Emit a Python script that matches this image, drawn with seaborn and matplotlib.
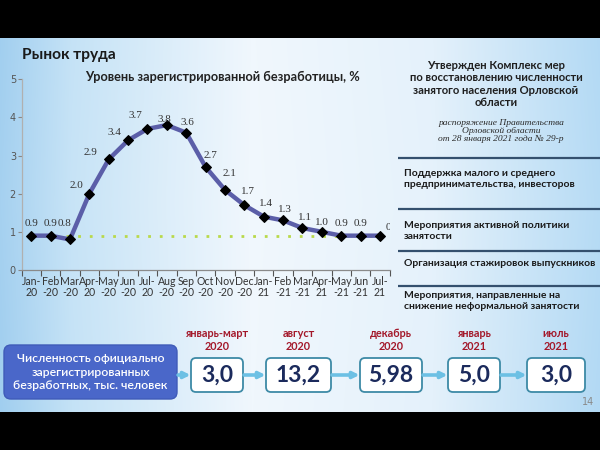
import numpy as np
import pandas as pd
import matplotlib
matplotlib.use("Agg")
import matplotlib.pyplot as plt
import matplotlib.transforms as mtransforms
from matplotlib.patches import FancyBboxPatch, Rectangle
import seaborn as sns

# ---------------- data ----------------
months = ["Jan-\n20", "Feb\n-20", "Mar\n-20", "Apr-\n20", "May\n-20", "Jun\n-20",
          "Jul-\n20", "Aug\n-20", "Sep\n-20", "Oct\n-20", "Nov\n-20", "Dec\n-20",
          "Jan-\n21", "Feb\n-21", "Mar\n-21", "Apr-\n21", "May\n-21", "Jun\n-21", "Jul-\n21"]
unemployment = [0.9, 0.9, 0.8, 2.0, 2.9, 3.4, 3.7, 3.8, 3.6, 2.7, 2.1, 1.7,
                1.4, 1.3, 1.1, 1.0, 0.9, 0.9, 0.9]
pre_crisis = [0.9, 0.9, 0.9, 0.9, 0.9, 0.9, 0.9, 0.9, 0.9, 0.9, 0.9, 0.9,
              0.9, 0.9, 0.9, 0.9, 0.9, 0.9, 0.9]
y_ticks = [0, 1, 2, 3, 4, 5]

period_labels = ["январь-март\n2020", "август\n2020", "декабрь\n2020", "январь\n2021", "июль\n2021"]
unemployed_counts = ["3,0", "13,2", "5,98", "5,0", "3,0"]

measures = ["Поддержка малого и среднего\nпредпринимательства, инвесторов",
            "Мероприятия активной политики\nзанятости",
            "Организация стажировок выпускников",
            "Мероприятия, направленные на\nснижение неформальной занятости"]

# label offsets in pixels (dx, dy) relative to each point
label_dx = [0, 0, -5, -13, -18, -14, -12, -2, 1, 5, 5, 4, 2, 2, 2, 0, 0, 0, 12]
label_dy = [12, 12, 16, 8, 7, 8, 13, 6, 10, 12, 16, 14, 13, 11, 11, 9, 12, 12, 8]

# ---------------- figure ----------------
sns.set_theme(style="white")
plt.rcParams['font.family'] = ['DejaVu Sans']
SANS = ["Lato", "DejaVu Sans"]
W, H = 600, 450
fig = plt.figure(figsize=(6, 4.5), dpi=100)

# background slide axes in pixel coordinates
bg = fig.add_axes([0, 0, 1, 1], zorder=-10)
xs = np.linspace(0, 1, W)
ys = np.linspace(0, 1, H)
stops = [0, 0.12, 0.42, 0.72, 1.0]
cols = np.array([[160, 206, 239], [196, 226, 246], [240, 247, 253],
                 [228, 241, 251], [178, 217, 244]]) / 255.0
grad = np.stack([np.interp(xs, stops, cols[:, k]) for k in range(3)], axis=-1)
img = np.repeat(grad[None, :, :], H, axis=0)
vert = (0.06 * (1 - np.abs(ys - 0.45) * 2))[:, None, None]
img = np.clip(img + vert * (1 - img), 0, 1)
bg.imshow(img, extent=(0, W, H, 0), aspect="auto", interpolation="bilinear")
bg.set_xlim(0, W)
bg.set_ylim(H, 0)
bg.axis("off")
bg.add_patch(Rectangle((0, 0), W, 37.5, color="black", lw=0))
bg.add_patch(Rectangle((0, 412), W, 38, color="black", lw=0))

bg.text(22, 55, "Рынок труда", fontsize=11.2, fontweight="bold", color="#1a1a1a",
        ha="left", va="center", family=SANS)
bg.text(222, 77, "Уровень зарегистрированной безработицы, %", fontsize=9.2,
        fontweight="bold", color="#222222", ha="center", va="center", family=SANS)

# right panel
bg.text(496, 84, "Утвержден Комплекс мер\nпо восстановлению численности\nзанятого населения Орловской\nобласти",
        fontsize=8.1, fontweight="bold", color="#1f1f1f", ha="center", va="center",
        linespacing=1.15, family=SANS)
bg.text(501, 131, "распоряжение Правительства\nОрловской области\nот 28 января 2021 года № 29-р",
        fontsize=6.8, style="italic", color="#2a2a2a", ha="center", va="center",
        family="Liberation Serif", linespacing=1.05)
for yl in [158, 209, 251, 286]:
    bg.plot([398, 600], [yl, yl], color="#34506e", lw=1.6, solid_capstyle="butt")
for txt, yc in zip(measures, [179, 231, 263, 301]):
    bg.text(404, yc, txt, fontsize=7.5, fontweight="bold", color="#1a1a1a",
            ha="left", va="center", linespacing=1.15, family=SANS)

# bottom flow
bg.add_patch(FancyBboxPatch((4, 345), 173, 54, boxstyle="round,pad=0,rounding_size=7",
                            fc="#4a67c9", ec="#3f5bb8", lw=1))
bg.text(90.5, 372, "Численность официально\nзарегистрированных\nбезработных, тыс. человек",
        fontsize=8.8, color="white", ha="center", va="center", linespacing=1.25,
        family=SANS, fontweight="semibold")
boxes = [(191, 243), (266, 331), (360, 422), (448, 500), (527, 585)]
for (x1, x2), lab, val in zip(boxes, period_labels, unemployed_counts):
    bg.add_patch(FancyBboxPatch((x1, 358), x2 - x1, 34, boxstyle="round,pad=0,rounding_size=5",
                                fc="white", ec="#3d8aa6", lw=1.3))
    bg.text((x1 + x2) / 2, 375.5, val, fontsize=16.5, fontweight="bold", color="#1b2a5c",
            ha="center", va="center", family=SANS)
    bg.text((x1 + x2) / 2, 340, lab, fontsize=7.8, fontweight="bold", color="#a3182a",
            ha="center", va="center", linespacing=1.2, family=SANS)
starts = [177] + [b[1] for b in boxes[:-1]]
ends = [b[0] for b in boxes]
for s, e in zip(starts, ends):
    bg.annotate("", xy=(e - 0.5, 375), xytext=(s + 1, 375),
                arrowprops=dict(arrowstyle="-|>", color="#6cc0e4", lw=2.6,
                                mutation_scale=9, shrinkA=0, shrinkB=0))
bg.text(588, 402, "14", fontsize=7, color="#8a8a8a", ha="center", va="center")

# ---------------- chart ----------------
ax = fig.add_axes([21.5 / W, 180 / H, 368.2 / W, 190.7 / H])
ax.patch.set_alpha(0)
df = pd.DataFrame({"x": range(len(months)), "rate": unemployment, "base": pre_crisis})

sns.lineplot(data=df, x="x", y="base", ax=ax, color="#b9d94a", lw=2,
             linestyle=(0, (1, 3.2)), zorder=2)
sns.lineplot(data=df, x="x", y="rate", ax=ax, color="#5b5ea8", lw=3.2, zorder=3,
             marker="D", markersize=5.5, markerfacecolor="black", markeredgecolor="black")

ax.set_xlim(-0.5, len(months) - 0.5)
ax.set_ylim(0, 5)
ax.set_xlabel("")
ax.set_ylabel("")
for sp in ["top", "right"]:
    ax.spines[sp].set_visible(False)
ax.spines["left"].set_color("#b0b0b0")
ax.spines["bottom"].set_color("#8a8a8a")
for sp in ["left", "bottom"]:
    ax.spines[sp].set_linewidth(0.9)

ax.set_yticks(y_ticks)
ax.set_yticklabels([str(t) for t in y_ticks], fontsize=7, color="#555555")
ax.tick_params(axis="y", which="major", length=3, width=0.8, color="#888888",
               direction="out", pad=1, left=True)
ax.set_xticks(range(len(months)))
ax.set_xticklabels(months, fontsize=7.6, color="#333333", linespacing=1.0, family=SANS)
ax.set_xticks(np.arange(-0.5, len(months), 1), minor=True)
ax.tick_params(axis="x", which="major", length=0, pad=4)
ax.tick_params(axis="x", which="minor", length=4, width=0.8, color="#555555",
               direction="out", bottom=True)

for i, v in enumerate(unemployment):
    tr = mtransforms.offset_copy(ax.transData, fig=fig, x=label_dx[i], y=label_dy[i], units="dots")
    ax.text(i, v, f"{v:.1f}", transform=tr, fontsize=8, color="#333333",
            family="Liberation Serif", ha="center", va="center", clip_on=True, zorder=5)

fig.savefig("out.png", dpi=100)
